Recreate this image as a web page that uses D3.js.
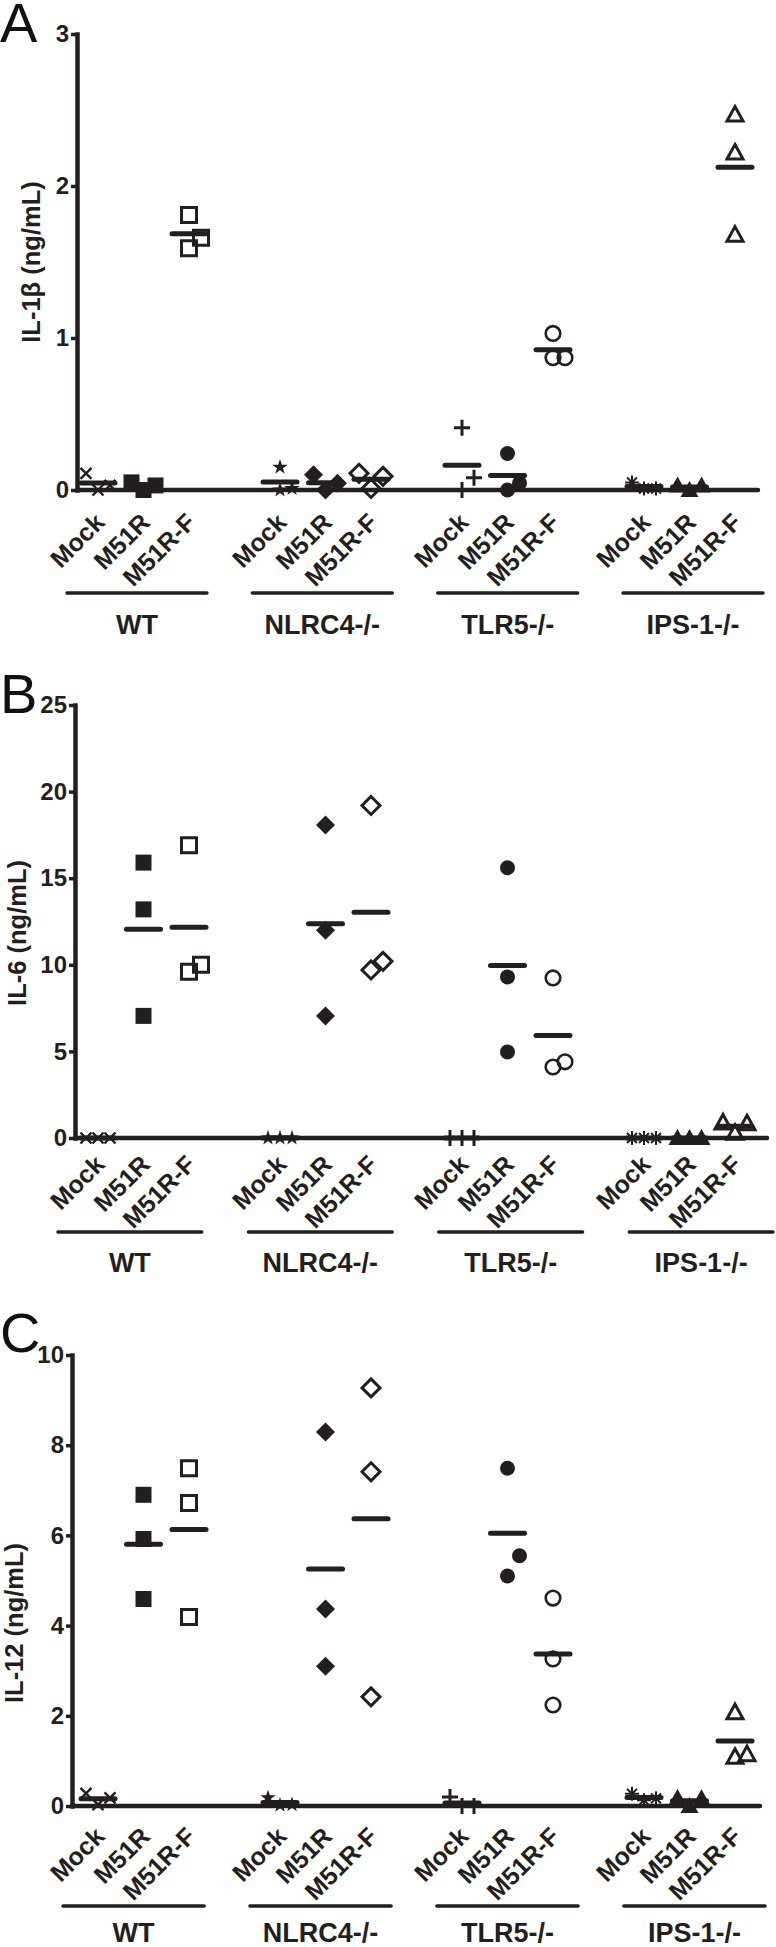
<!DOCTYPE html>
<html><head><meta charset="utf-8">
<script src="https://cdn.jsdelivr.net/npm/d3@7"></script>
<style>body{margin:0;background:#fff}svg{display:block}</style>
</head><body>
<script>
// ---------------- DATA ----------------
const groups = ["WT", "NLRC4-/-", "TLR5-/-", "IPS-1-/-"];
const treatments = ["Mock", "M51R", "M51R-F"];

// each group: [Mock replicates], [M51R replicates], [M51R-F replicates]
const il1bValues = [
  [[0.11, 0.00, 0.03], [0.05, 0.00, 0.03], [1.81, 1.66, 1.59]],
  [[0.15, 0.00, 0.01], [0.10, 0.00, 0.045], [0.11, 0.09, 0.01]],
  [[0.41, 0.08, 0.00], [0.24, 0.045, 0.00], [1.03, 0.87, 0.87]],
  [[0.05, 0.01, 0.01], [0.03, 0.00, 0.03], [2.47, 2.22, 1.68]]
];
const il6Values = [
  [[0, 0, 0], [15.9, 13.2, 7.05], [16.9, 10.0, 9.6]],
  [[0, 0, 0], [18.07, 12.0, 7.05], [19.2, 10.2, 9.7]],
  [[0, 0, 0], [15.6, 9.3, 4.97], [9.24, 4.1, 4.4]],
  [[0, 0, 0], [0, 0, 0], [0.9, 0.85, 0.3]]
];
const il12Values = [
  [[0.28, 0.03, 0.18], [6.9, 5.92, 4.59], [7.49, 6.72, 4.19]],
  [[0.18, 0.02, 0.03], [8.29, 4.37, 3.1], [9.27, 7.41, 2.42]],
  [[0.2, 0.0, 0.0], [7.49, 5.55, 5.1], [4.61, 3.26, 2.24]],
  [[0.27, 0.13, 0.17], [0.18, 0.0, 0.17], [2.08, 1.09, 1.15]]
];
const il1bTicks = [0, 1, 2, 3];
const il6Ticks = [0, 5, 10, 15, 20, 25];
const il12Ticks = [0, 2, 4, 6, 8, 10];
const panelLetters = ["A", "B", "C"];
const yLabels = ["IL-1β (ng/mL)", "IL-6 (ng/mL)", "IL-12 (ng/mL)"];

// ---------------- STYLE / LAYOUT ----------------
const ink = "#231f20";
const FONT = "'Liberation Sans', Arial, Helvetica, sans-serif";
const markerTypes = [
  ["x", "square", "squareOpen"],
  ["star", "diamond", "diamondOpen"],
  ["plus", "circle", "circleOpen"],
  ["asterisk", "triangle", "triangleOpen"]
];
const layout = [
  {letterY: 42, yLabelX: 31, yLabelY: 262, axisX: 77, yTop: 34, yZero: 490, xEnd: 758, tickLabOff: 34, lineY: 593, lineRange: [67, 763], groupY: 634},
  {letterY: 713, yLabelX: 17, yLabelY: 933, axisX: 75, yTop: 705, yZero: 1138, xEnd: 767, tickLabOff: 28, lineY: 1232, lineRange: [58, 773], groupY: 1272},
  {letterY: 1352, yLabelX: 14, yLabelY: 1623, axisX: 72, yTop: 1355, yZero: 1806, xEnd: 760, tickLabOff: 32, lineY: 1906, lineRange: [63, 765], groupY: 1942}
];
const panelValues = [il1bValues, il6Values, il12Values];
const panelTicks = [il1bTicks, il6Ticks, il12Ticks];

const W = 776, H = 1947;
const svg = d3.select("body").append("svg")
  .attr("width", W).attr("height", H)
  .style("font-family", FONT);

// slots: 3 treatments per group + gap slot between groups
const slots = [];
groups.forEach((g, gi) => {
  treatments.forEach(t => slots.push(g + "|" + t));
  if (gi < groups.length - 1) slots.push("gap" + gi);
});
const x = d3.scalePoint().domain(slots).range([98, 735]);

function markerPath(type) {
  switch (type) {
    case "square": { const s = 16; return `M${-s/2},${-s/2}h${s}v${s}h${-s}Z`; }
    case "squareOpen": { const s = 15; return `M${-s/2},${-s/2}h${s}v${s}h${-s}Z`; }
    case "diamond": { const r = 9.5; return `M0,${-r}L${r},0L0,${r}L${-r},0Z`; }
    case "diamondOpen": { const r = 9; return `M0,${-r}L${r},0L0,${r}L${-r},0Z`; }
    case "circle": return d3.symbol(d3.symbolCircle, Math.PI * 7.5 * 7.5)();
    case "circleOpen": return d3.symbol(d3.symbolCircle, Math.PI * 7.3 * 7.3)();
    case "triangle": return `M0,-9L9,7L-9,7Z`;
    case "triangleOpen": return `M0,-8L8,6.5L-8,6.5Z`;
    case "star": return d3.symbol(d3.symbolStar, 75)();
    case "x": { const r = 5.5; return `M${-r},${-r}L${r},${r}M${r},${-r}L${-r},${r}`; }
    case "plus": { const r = 8; return `M${-r},0H${r}M0,${-r}V${r}`; }
    case "asterisk": {
      const r = 7; let p = "";
      for (let k = 0; k < 8; k++) { const a = k * Math.PI / 4; p += `M0,0L${(r*Math.cos(a)).toFixed(2)},${(r*Math.sin(a)).toFixed(2)}`; }
      return p;
    }
  }
}
function markerStyle(sel, type) {
  if (["square", "diamond", "circle", "triangle", "star"].includes(type)) {
    sel.attr("fill", ink).attr("stroke", "none");
  } else if (["squareOpen", "diamondOpen", "circleOpen", "triangleOpen"].includes(type)) {
    sel.attr("fill", "none").attr("stroke", ink).attr("stroke-width", type === "circleOpen" ? 2.6 : 3)
      .attr("stroke-linejoin", "miter");
  } else {
    sel.attr("fill", "none").attr("stroke", ink)
      .attr("stroke-width", type === "plus" ? 3 : (type === "x" ? 2.4 : 2));
  }
}

// place replicate points: spread horizontally when they overlap vertically
function spread(vals, y, cx) {
  const sorted = vals.map(v => v).sort((a, b) => a - b);
  const placed = [];
  const d = 12, thr = 22;
  const offsets = [0, d, -d, 2 * d, -2 * d];
  sorted.forEach(v => {
    const py = y(v);
    for (const o of offsets) {
      const clash = placed.some(p => p.o === o && Math.abs(p.py - py) < thr);
      if (!clash) { placed.push({v, py, o, px: cx + o}); break; }
    }
  });
  return placed;
}

layout.forEach((L, pi) => {
  const g = svg.append("g");
  const ticks = panelTicks[pi];
  const y = d3.scaleLinear().domain([0, d3.max(ticks)]).range([L.yZero, L.yTop]);

  // panel letter
  g.append("text").attr("x", 0).attr("y", L.letterY)
    .attr("font-size", 56).attr("fill", "#111").text(panelLetters[pi]);

  // y axis
  const ax = g.append("g").attr("transform", `translate(${L.axisX},0)`)
    .call(d3.axisLeft(y).tickValues(ticks).tickFormat(d3.format("d"))
      .tickSize(6).tickSizeOuter(0).tickPadding(2));
  ax.select(".domain").attr("stroke", ink).attr("stroke-width", 4.5).attr("stroke-linecap", "square");
  ax.selectAll(".tick line").attr("stroke", ink).attr("stroke-width", 3.5);
  ax.selectAll(".tick text").attr("font-size", 24).attr("font-weight", "bold")
    .attr("font-family", FONT).attr("fill", ink);

  // y label
  g.append("text")
    .attr("transform", `translate(${L.yLabelX},${L.yLabelY}) rotate(-90)`)
    .attr("text-anchor", "middle").attr("dy", "0.35em")
    .attr("font-size", 25.5).attr("font-weight", "bold").attr("fill", ink)
    .text(yLabels[pi]);

  // x axis line
  g.append("line").attr("x1", L.axisX).attr("x2", L.xEnd)
    .attr("y1", y(0)).attr("y2", y(0))
    .attr("stroke", ink).attr("stroke-width", 4.5).attr("stroke-linecap", "round");

  // group band scale for underlines
  const gx = d3.scaleBand().domain(groups).range(L.lineRange).paddingInner(0.245);

  groups.forEach((grp, gi) => {
    treatments.forEach((t, ti) => {
      const cx = x(grp + "|" + t);
      const vals = panelValues[pi][gi][ti];
      const type = markerTypes[gi][ti];
      const pts = spread(vals, y, cx);
      g.selectAll(null).data(pts).enter().append("path")
        .attr("d", markerPath(type))
        .attr("transform", p => `translate(${p.px},${p.py})`)
        .call(markerStyle, type);
      // mean line
      const m = d3.mean(vals);
      g.append("line").attr("x1", cx - 17).attr("x2", cx + 17)
        .attr("y1", y(m)).attr("y2", y(m))
        .attr("stroke", ink).attr("stroke-width", 5).attr("stroke-linecap", "round");
      // rotated tick label
      g.append("text")
        .attr("transform", `translate(${cx + 8},${L.yZero + L.tickLabOff}) rotate(-45)`)
        .attr("text-anchor", "end")
        .attr("font-size", 25).attr("font-weight", "bold").attr("fill", ink)
        .text(t);
    });
    // group underline and label
    g.append("line").attr("x1", gx(grp)).attr("x2", gx(grp) + gx.bandwidth())
      .attr("y1", L.lineY).attr("y2", L.lineY)
      .attr("stroke", ink).attr("stroke-width", 3.5).attr("stroke-linecap", "round");
    g.append("text").attr("x", gx(grp) + gx.bandwidth() / 2).attr("y", L.groupY)
      .attr("text-anchor", "middle").attr("font-size", 27).attr("font-weight", "bold")
      .attr("fill", ink).text(grp);
  });
});
</script>
</body></html>
